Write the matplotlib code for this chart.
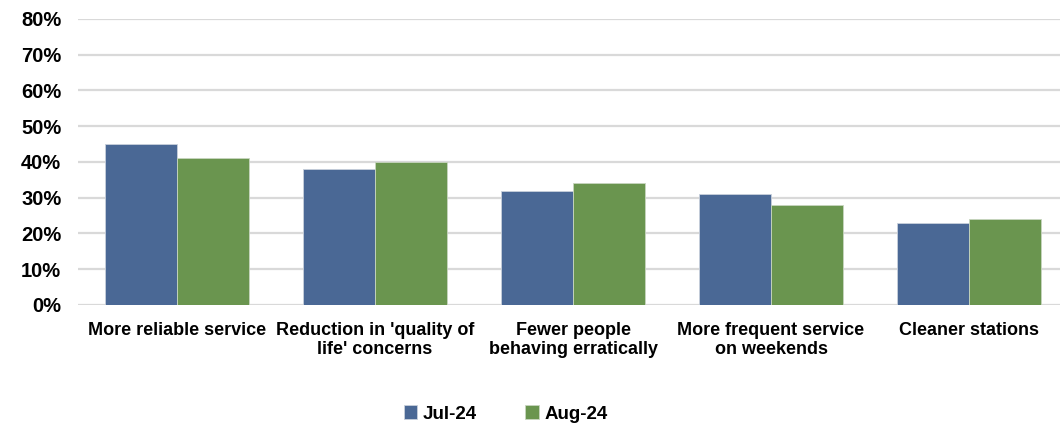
import numpy as np
import matplotlib
matplotlib.use("Agg")
import matplotlib.pyplot as plt
from matplotlib.ticker import PercentFormatter

categories = [
    "More reliable service",
    "Reduction in 'quality of\nlife' concerns",
    "Fewer people\nbehaving erratically",
    "More frequent service\non weekends",
    "Cleaner stations",
]
jul_24 = [45, 38, 32, 31, 23]
aug_24 = [41, 40, 34, 28, 24]
series_labels = ["Jul-24", "Aug-24"]

BLUE = "#4a6895"
GREEN = "#6a954f"
GRID = "#d9d9d9"

plt.rcParams.update({
    "font.family": ["Liberation Sans", "DejaVu Sans"],
    "font.weight": "bold",
})

fig = plt.figure(figsize=(10.6, 4.25), dpi=100)
ax = fig.add_axes([0.0736, 0.2824, 0.934, 0.6729])

x = np.arange(len(categories))
w = 0.364
ax.bar(x - w / 2, jul_24, width=w, color=BLUE, edgecolor="#c8d0dc", linewidth=0.6,
       label=series_labels[0], zorder=3)
ax.bar(x + w / 2, aug_24, width=w, color=GREEN, edgecolor="#c8d6c0", linewidth=0.6,
       label=series_labels[1], zorder=3)

ax.set_xlim(-0.5, len(categories) - 0.5)
ax.set_ylim(0, 80)
ax.set_yticks(range(0, 81, 10))
ax.yaxis.set_major_formatter(PercentFormatter(decimals=0))
ax.set_xticks(x)
ax.set_xticklabels(categories, fontsize=13, fontweight="bold", linespacing=1.2)
ax.tick_params(axis="y", length=0, pad=12, labelsize=14.5)
ax.tick_params(axis="x", length=0, pad=12)
for lbl in ax.get_yticklabels():
    lbl.set_fontweight("bold")

ax.grid(axis="y", color=GRID, linewidth=1.6, zorder=0)
ax.set_axisbelow(True)
for s in ax.spines.values():
    s.set_visible(False)

fig.legend(loc="center", bbox_to_anchor=(0.477, 0.026), ncol=2, frameon=False,
           handlelength=0.7, handleheight=0.7, handletextpad=0.3,
           columnspacing=2.6, prop={"weight": "bold", "size": 13.5})

fig.savefig("out.png", dpi=100)
